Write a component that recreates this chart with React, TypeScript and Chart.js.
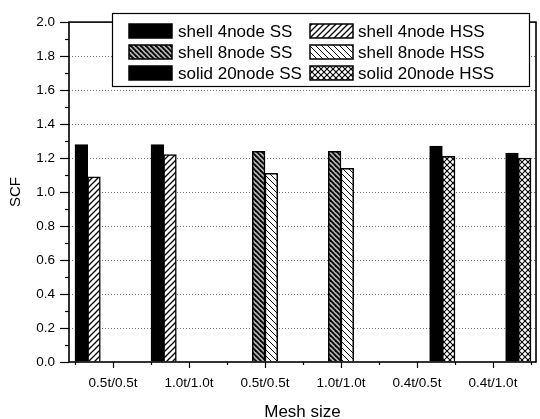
import { useEffect, useRef } from 'react';
import { Chart, registerables } from 'chart.js';

Chart.register(...registerables);
Chart.defaults.font.family = "'Liberation Sans', Arial, sans-serif";
Chart.defaults.color = '#000';

// Mesh size combinations along the x axis
const categories = ['0.5t/0.5t', '1.0t/1.0t', '0.5t/0.5t', '1.0t/1.0t', '0.4t/0.5t', '0.4t/1.0t'];

// Series names
const seriesNames = [
  'shell 4node SS',
  'shell 4node HSS',
  'shell 8node SS',
  'shell 8node HSS',
  'solid 20node SS',
  'solid 20node HSS',
];

// SCF values per mesh size (null = not computed for that element type)
const shell4SS = [1.28, 1.28, null, null, null, null];
const shell4HSS = [1.09, 1.22, null, null, null, null];
const shell8SS = [null, null, 1.24, 1.24, null, null];
const shell8HSS = [null, null, 1.11, 1.14, null, null];
const solid20SS = [null, null, null, null, 1.27, 1.23];
const solid20HSS = [null, null, null, null, 1.21, 1.2];

// Y axis range and tick spacing
const yMin = 0;
const yMax = 2;
const yMajorStep = 0.2;
const yMinorStep = 0.1;

type Dir = '/' | '\\';

function hatch(bg: string, dirs: Dir[], period: number, lw: number): CanvasPattern | string {
  const c = document.createElement('canvas');
  c.width = period;
  c.height = period;
  const g = c.getContext('2d');
  if (!g) return bg;
  g.fillStyle = bg;
  g.fillRect(0, 0, period, period);
  g.strokeStyle = '#000';
  g.lineWidth = lw;
  for (const d of dirs) {
    for (const off of [-period, 0, period]) {
      g.beginPath();
      if (d === '/') {
        g.moveTo(off - 1, period + 1);
        g.lineTo(off + period + 1, -1);
      } else {
        g.moveTo(off - 1, -1);
        g.lineTo(off + period + 1, period + 1);
      }
      g.stroke();
    }
  }
  return g.createPattern(c, 'repeat') ?? bg;
}

function toPoints(values: (number | null)[]) {
  return values
    .map((v, i) => ({ x: i, y: v }))
    .filter((p) => p.y !== null) as { x: number; y: number }[];
}

// Frame, tick marks and the in-plot legend box
const framePlugin = {
  id: 'frameAndLegend',
  afterDraw(chart: any) {
    const { ctx, chartArea: a, scales } = chart;
    const x = scales.x;
    const y = scales.y;
    const line = (x1: number, y1: number, x2: number, y2: number) => {
      ctx.beginPath();
      ctx.moveTo(x1, y1);
      ctx.lineTo(x2, y2);
      ctx.stroke();
    };
    ctx.save();
    ctx.strokeStyle = '#000';

    // y ticks: major and minor, outward
    ctx.lineWidth = 1.2;
    const nMinor = Math.round((yMax - yMin) / yMinorStep);
    const ratio = Math.round(yMajorStep / yMinorStep);
    for (let k = 0; k <= nMinor; k++) {
      const py = Math.round(y.getPixelForValue(yMin + k * yMinorStep)) + 0.5;
      const len = k % ratio === 0 ? 9 : 4;
      line(a.left - len, py, a.left, py);
    }
    // x ticks: major at category centres, minor at category boundaries
    categories.forEach((_, i) => {
      const px = Math.round(x.getPixelForValue(i)) + 0.5;
      line(px, a.bottom, px, a.bottom + 6);
    });
    for (let i = 0; i <= categories.length; i++) {
      const px = Math.round(x.getPixelForValue(i - 0.5)) + 0.5;
      line(px, a.bottom, px, a.bottom + 3);
    }

    // plot frame
    ctx.lineWidth = 1.6;
    ctx.strokeRect(a.left, a.top, a.right - a.left, a.bottom - a.top);

    // legend box
    const bx = 112;
    const by = 13;
    const bw = 417;
    const bh = 73;
    ctx.fillStyle = '#fff';
    ctx.fillRect(bx, by, bw, bh);
    ctx.lineWidth = 1.2;
    ctx.strokeRect(bx + 0.5, by + 0.5, bw, bh);

    const colSwatch = [129, 310];
    const colText = [178, 358];
    const rowY = [31, 52, 73];
    ctx.font = "17px 'Liberation Sans', Arial, sans-serif";
    ctx.textBaseline = 'middle';
    ctx.textAlign = 'left';
    chart.data.datasets.forEach((ds: any, i: number) => {
      const col = i % 2;
      const row = Math.floor(i / 2);
      const sx = colSwatch[col];
      const sy = rowY[row] - 7;
      ctx.fillStyle = ds.backgroundColor;
      ctx.fillRect(sx, sy, 43, 14);
      ctx.lineWidth = 1.5;
      ctx.strokeStyle = '#000';
      ctx.strokeRect(sx, sy, 43, 14);
      ctx.fillStyle = '#000';
      ctx.fillText(ds.label, colText[col], rowY[row] + 1);
    });
    ctx.restore();
  },
};

export default function App() {
  const ref = useRef<HTMLCanvasElement>(null);

  useEffect(() => {
    if (!ref.current) return;
    const fills = [
      '#000',
      hatch('#fff', ['/'], 6, 1.3),
      hatch('#b4b4b4', ['\\'], 5, 1.8),
      hatch('#fff', ['\\'], 6, 1),
      '#000',
      hatch('#fff', ['/', '\\'], 6, 1.1),
    ];
    const series = [shell4SS, shell4HSS, shell8SS, shell8HSS, solid20SS, solid20HSS];

    const chart = new Chart(ref.current, {
      type: 'bar',
      data: {
        datasets: series.map((values, i) => ({
          label: seriesNames[i],
          data: toPoints(values),
          backgroundColor: fills[i] as any,
          borderColor: '#000',
          borderWidth: 1.5,
          categoryPercentage: 1,
          barPercentage: 1,
        })),
      },
      options: {
        animation: false,
        responsive: false,
        events: [],
        layout: { padding: { left: 0, top: 14, right: 4, bottom: 0 } },
        plugins: {
          legend: { display: false },
          tooltip: { enabled: false },
        },
        scales: {
          x: {
            type: 'linear',
            offset: false,
            min: -0.579,
            max: 5.566,
            afterBuildTicks: (s: any) => {
              s.ticks = categories.map((_, i) => ({ value: i }));
            },
            afterFit: (s: any) => {
              s.height = 57;
            },
            grid: { display: false, drawTicks: false },
            border: { display: false },
            ticks: {
              autoSkip: false,
              maxRotation: 0,
              padding: 13,
              color: '#000',
              font: { size: 13.5 },
              callback: (v: any) => categories[Math.round(Number(v))] ?? '',
            },
            title: {
              display: true,
              text: 'Mesh size',
              color: '#000',
              font: { size: 17, lineHeight: 0.8 },
              padding: 0,
            },
          },
          y: {
            min: yMin,
            max: yMax,
            afterFit: (s: any) => {
              s.width = 69;
            },
            grid: {
              drawTicks: false,
              lineWidth: 1,
              color: (c: any) =>
                c.tick && (c.tick.value <= yMin + 1e-6 || c.tick.value >= yMax - 1e-6)
                  ? 'rgba(0,0,0,0)'
                  : '#6f6f6f',
            },
            border: { display: false, dash: [1, 2] },
            ticks: {
              stepSize: yMajorStep,
              padding: 14,
              color: '#000',
              font: { size: 13.5 },
              callback: (v: any) => Number(v).toFixed(1),
            },
            title: {
              display: true,
              text: 'SCF',
              color: '#000',
              font: { size: 15, lineHeight: 1 },
              padding: { top: 8, bottom: 0 },
            },
          },
        },
      },
      plugins: [framePlugin],
    });
    return () => chart.destroy();
  }, []);

  return (
    <div style={{ position: 'absolute', left: 0, top: 0, width: 540, height: 419, background: '#fff' }}>
      <canvas ref={ref} width={540} height={419} />
    </div>
  );
}
